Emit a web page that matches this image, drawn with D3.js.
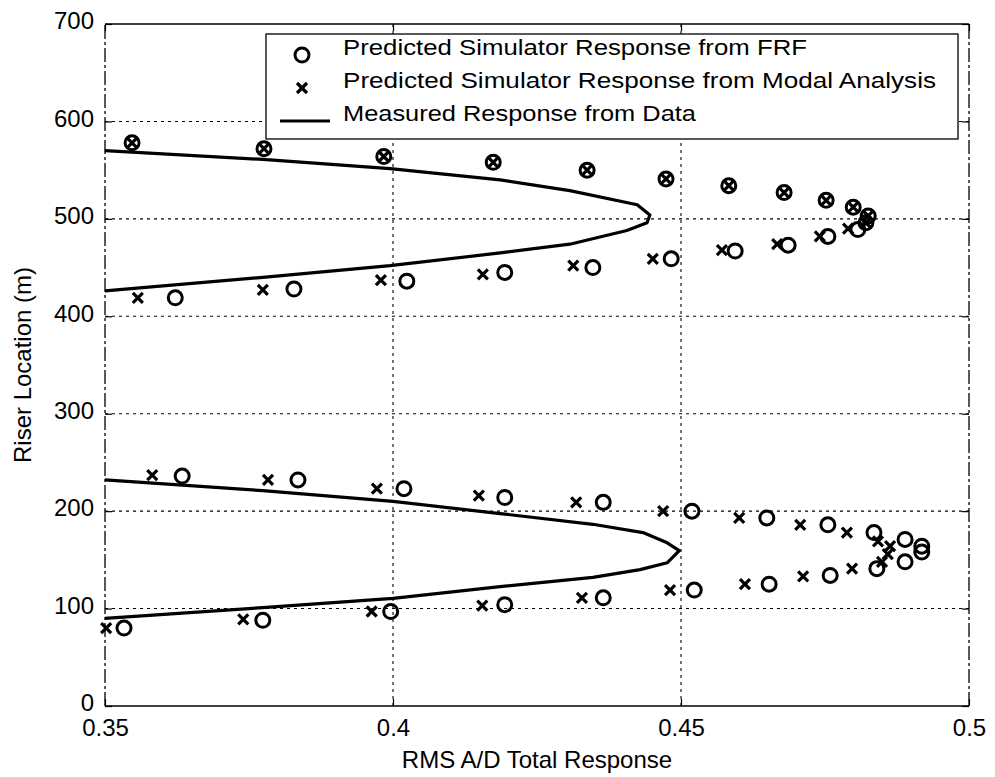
<!DOCTYPE html>
<html>
<head>
<meta charset="utf-8">
<script src="https://cdn.jsdelivr.net/npm/d3@7"></script>
<style>
  body { margin: 0; background: #fff; }
  svg { display: block; font-family: "Liberation Sans", Arial, sans-serif; }
</style>
</head>
<body>
<svg id="root"></svg>
<script>
// Predicted Simulator Response from FRF (circles)
const frfRms = [0.3547, 0.3776, 0.3984, 0.4174, 0.4337, 0.4474, 0.4583, 0.4679, 0.4752, 0.4799, 0.4825, 0.4821,
  0.4807, 0.4755, 0.4686, 0.4594, 0.4483, 0.4347, 0.4194, 0.4024, 0.3828, 0.3622,
  0.3634, 0.3835, 0.4019, 0.4194, 0.4365, 0.4519, 0.4649, 0.4755, 0.4835, 0.4889, 0.4918,
  0.4918, 0.4889, 0.4840, 0.4759, 0.4653, 0.4523, 0.4365, 0.4194, 0.3996, 0.3774, 0.3533]
const frfLoc = [578, 572, 564, 558, 550, 541, 534, 527, 519, 512, 503, 496,
  489, 482, 473, 467, 459, 450, 445, 436, 428, 419,
  236, 232, 223, 214, 209, 200, 193, 186, 178, 171, 164,
  158, 148, 141, 134, 125, 119, 111, 104, 97, 88, 80]

// Predicted Simulator Response from Modal Analysis (crosses)
const modalRms = [0.3547, 0.3776, 0.3984, 0.4174, 0.4337, 0.4474, 0.4583, 0.4679, 0.4752, 0.4799, 0.4825, 0.4821,
  0.4790, 0.4741, 0.4667, 0.4571, 0.4451, 0.4313, 0.4156, 0.3979, 0.3774, 0.3557,
  0.3582, 0.3783, 0.3972, 0.4149, 0.4318, 0.4469, 0.4601, 0.4707, 0.4788, 0.4842, 0.4863,
  0.4859, 0.4849, 0.4797, 0.4712, 0.4611, 0.4481, 0.4328, 0.4155, 0.3963, 0.3740, 0.3502]
const modalLoc = [578, 572, 564, 558, 550, 541, 534, 527, 519, 512, 503, 496,
  490, 482, 474, 468, 459, 452, 443, 437, 427, 419,
  237, 232, 223, 216, 209, 200, 193, 186, 178, 169, 164,
  156, 148, 141, 133, 125, 119, 111, 103, 97, 89, 80]

// Measured Response from Data (two curves)
const measUpperRms = [0.35, 0.3774, 0.3995, 0.4186, 0.4307, 0.4424, 0.4446, 0.4441, 0.4406, 0.4307, 0.4186, 0.3995, 0.3774, 0.35]
const measUpperLoc = [570, 561, 551.5, 540, 529, 514.5, 504, 496, 488, 474, 465, 452, 440, 426]
const measLowerRms = [0.35, 0.3774, 0.40, 0.4186, 0.4347, 0.4434, 0.4476, 0.4497, 0.4476, 0.4429, 0.4347, 0.4186, 0.40, 0.3774, 0.35]
const measLowerLoc = [232, 221, 210, 197.5, 186.5, 178, 167.5, 159.5, 147, 140, 132, 122.5, 110.5, 101, 90]

const xTicks = [0.35, 0.4, 0.45, 0.5]
const yTicks = [0, 100, 200, 300, 400, 500, 600, 700]
const legendLabels = [
  "Predicted Simulator Response from FRF",
  "Predicted Simulator Response from Modal Analysis",
  "Measured Response from Data"
]

const width = 995;
const height = 777;
const svg = d3.select('#root').attr('width', width).attr('height', height)

const x = d3.scaleLinear().domain([0.35, 0.5]).range([105, 969])
const y = d3.scaleLinear().domain([0, 700]).range([706, 24])

// grid
const grid = svg.append('g').attr('stroke', '#000').attr('stroke-width', 1.1).attr('stroke-dasharray', '3,4')
grid.selectAll('line.gx').data(xTicks.slice(1, -1)).enter().append('line')
  .attr('x1', d => x(d)).attr('x2', d => x(d)).attr('y1', y(0)).attr('y2', y(700))
grid.selectAll('line.gy').data(yTicks.slice(1, -1)).enter().append('line')
  .attr('x1', x(0.35)).attr('x2', x(0.5)).attr('y1', d => y(d)).attr('y2', d => y(d))

// axes
const fmt = d => String(+d.toFixed(2))
const styleAxis = g => {
  g.select('.domain').remove()
  g.selectAll('.tick line').attr('stroke', '#000').attr('stroke-width', 1.2)
  g.selectAll('text').attr('font-size', 24).attr('fill', '#000').attr('font-family', '"Liberation Sans", Arial, sans-serif')
}
svg.append('g').attr('transform', `translate(0,${y(0)})`)
  .call(d3.axisBottom(x).tickValues(xTicks).tickFormat(fmt).tickSize(-7).tickPadding(13)).call(styleAxis)
svg.append('g').attr('transform', `translate(0,${y(700)})`)
  .call(d3.axisTop(x).tickValues(xTicks).tickFormat('').tickSize(-7)).call(styleAxis)
svg.append('g').attr('transform', `translate(${x(0.35)},0)`)
  .call(d3.axisLeft(y).tickValues(yTicks).tickSize(-7).tickPadding(11)).call(styleAxis)
  .call(g => g.selectAll('text').attr('dy', '0.2em'))
svg.append('g').attr('transform', `translate(${x(0.5)},0)`)
  .call(d3.axisRight(y).tickValues(yTicks).tickFormat('').tickSize(-7)).call(styleAxis)

// box
const box = svg.append('g').attr('stroke', '#000').attr('stroke-width', 1.3)
box.append('line').attr('x1', x(0.35)).attr('x2', x(0.5)).attr('y1', y(0)).attr('y2', y(0))
box.append('line').attr('x1', x(0.35)).attr('x2', x(0.5)).attr('y1', y(700)).attr('y2', y(700))
box.append('line').attr('x1', x(0.35)).attr('x2', x(0.35)).attr('y1', y(0)).attr('y2', y(700)).attr('stroke-dasharray', '14,3,3,3')
box.append('line').attr('x1', x(0.5)).attr('x2', x(0.5)).attr('y1', y(0)).attr('y2', y(700)).attr('stroke-dasharray', '14,3,3,3')

// axis labels
svg.append('text').attr('x', (x(0.35) + x(0.5)) / 2).attr('y', 768)
  .attr('text-anchor', 'middle').attr('font-size', 24).text('RMS A/D Total Response')
svg.append('text').attr('transform', `translate(31,${(y(0) + y(700)) / 2}) rotate(-90)`)
  .attr('text-anchor', 'middle').attr('font-size', 24).text('Riser Location (m)')

// measured curves
const line = d3.line().x(d => x(d[0])).y(d => y(d[1]))
const curves = [d3.zip(measUpperRms, measUpperLoc), d3.zip(measLowerRms, measLowerLoc)]
svg.append('g').selectAll('path').data(curves).enter().append('path')
  .attr('d', line).attr('fill', 'none').attr('stroke', '#000').attr('stroke-width', 3.2).attr('stroke-linejoin', 'round')

// markers
const circ = (sel) => sel.append('circle').attr('r', 7).attr('fill', 'none').attr('stroke', '#000').attr('stroke-width', 3)
const cross = (sel, s = 5) => sel.append('path').attr('d', `M${-s},${-s}L${s},${s}M${-s},${s}L${s},${-s}`)
  .attr('stroke', '#000').attr('stroke-width', 3.2).attr('fill', 'none')

svg.append('g').selectAll('g').data(d3.zip(frfRms, frfLoc)).enter().append('g')
  .attr('transform', d => `translate(${x(d[0])},${y(d[1])})`).call(circ)
svg.append('g').selectAll('g').data(d3.zip(modalRms, modalLoc)).enter().append('g')
  .attr('transform', d => `translate(${x(d[0])},${y(d[1])})`).call(cross)

// legend
const lg = svg.append('g')
lg.append('rect').attr('x', 266).attr('y', 34).attr('width', 692).attr('height', 105)
  .attr('fill', '#fff').attr('stroke', '#000').attr('stroke-width', 1.3)
const rowY = [55, 88, 121]
const textW = [464, 593, 353]
lg.selectAll('text').data(legendLabels).enter().append('text')
  .attr('x', 343).attr('y', (d, i) => rowY[i]).attr('font-size', 22)
  .attr('textLength', (d, i) => textW[i]).attr('lengthAdjust', 'spacingAndGlyphs')
  .text(d => d)
lg.append('g').attr('transform', `translate(302,${rowY[0]})`).call(circ)
lg.append('g').attr('transform', `translate(302,${rowY[1]})`).call(cross)
lg.append('line').attr('x1', 280).attr('x2', 330).attr('y1', rowY[2]).attr('y2', rowY[2])
  .attr('stroke', '#000').attr('stroke-width', 3.2)
</script>
</body>
</html>
